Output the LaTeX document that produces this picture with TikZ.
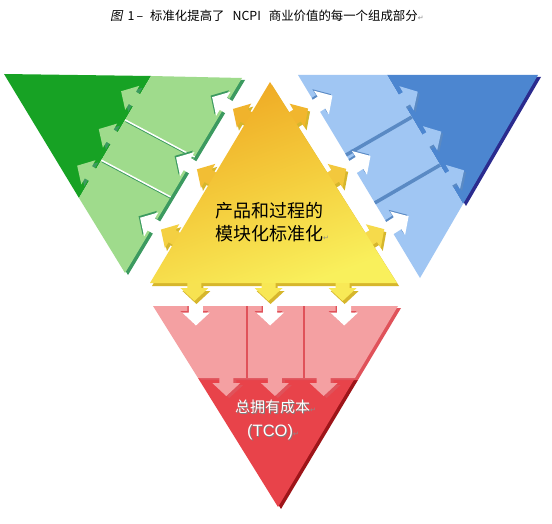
\documentclass[tikz,border=0pt]{standalone}
\usepackage{fontspec}
\usetikzlibrary{calc}
\newfontfamily\cjk{Noto Sans CJK SC}
\newfontfamily\cjkslant[FakeSlant=0.2]{Noto Sans CJK SC}
\newfontfamily\symb{DejaVu Sans}
\newfontfamily\latn{Liberation Sans}

\definecolor{greendark}{HTML}{17A224}
\definecolor{greenlight}{HTML}{9FDB8C}
\definecolor{greenedge}{HTML}{3C9A60}
\definecolor{bluedark}{HTML}{4C86D0}
\definecolor{bluelight}{HTML}{A0C6F3}
\definecolor{blueedge}{HTML}{5A8AC4}
\definecolor{bluenavy}{HTML}{2B2B8E}
\definecolor{reddark}{HTML}{E8434A}
\definecolor{redlight}{HTML}{F4A0A2}
\definecolor{rededge}{HTML}{E0525A}
\definecolor{redshade}{HTML}{9E1519}
\definecolor{yellowtop}{HTML}{EFA823}
\definecolor{yellowmid}{HTML}{F4CC3C}
\definecolor{yellowbot}{HTML}{F9F05C}
\definecolor{yellowedge}{HTML}{D6B62C}
\definecolor{markgray}{HTML}{8C8C8C}

\newcommand{\parmark}{{\symb\fontsize{7}{7}\selectfont\color{markgray}↵}}

\begin{document}
\begin{tikzpicture}[x=1pt, y=1pt,
    every node/.style={inner sep=0pt},
    blockarrow/.pic={\path[pic actions] (0,-7) -- (12,-7) -- (12,-14) -- (25,0) -- (12,14) -- (12,7) -- (0,7) -- cycle;}]
  \fill[white] (0,0) rectangle (552,-524);
  \useasboundingbox (0,0) rectangle (552,-524);

  \node[anchor=west, font={\cjk\fontsize{12.4}{14}\selectfont}] (title) at (110,-16)
    {{\cjkslant 图}\hspace{5pt}1\,–\hspace{7pt}标准化提高了\hspace{8pt}NCPI\hspace{8pt}商业价值的每一个组成部分\parmark};

  % corners
  \coordinate (A) at (4,-74);
  \coordinate (B) at (242,-78);
  \coordinate (C) at (125,-273);
  \coordinate (D) at (151,-76);
  \coordinate (E) at (79,-198);
  \coordinate (F) at (298,-75);
  \coordinate (G) at (538,-75);
  \coordinate (H) at (420,-278);
  \coordinate (I) at (387,-75);
  \coordinate (J) at (463,-204);
  \coordinate (S) at (153,-306);
  \coordinate (T) at (398,-306);
  \coordinate (U) at (278,-507);
  \coordinate (K) at (198,-378);
  \coordinate (L) at (355,-378);
  \coordinate (P) at (270,-82);
  \coordinate (Q) at (150,-283);
  \coordinate (R) at (397,-283);

  % green
  \fill[greendark] (A) -- (D) -- (E) -- cycle;
  \begin{scope}[transform canvas={shift={(3,-2)}}]
    \fill[greenedge] (D) -- (B) -- (C) -- (E) -- cycle;
    \foreach \t in {0.2,0.51,0.81}
      \pic[fill=greenedge, rotate=149.5] at ($(D)!\t!(E)+(149.5:-7)$) {blockarrow};
  \end{scope}
  \fill[greenlight] (D) -- (B) -- (C) -- (E) -- cycle;
  \foreach \t in {0.2,0.51,0.81}
    \pic[fill=greenlight, rotate=149.5] at ($(D)!\t!(E)+(149.5:-7)$) {blockarrow};
  \draw[greenedge, line width=1.2pt] ($(D)!0.36!(E)+(0.5,-1.5)$) -- ($(B)!0.405!(C)+(0.5,-1.5)$);
  \draw[white, line width=1.5pt] ($(D)!0.36!(E)$) -- ($(B)!0.405!(C)$);
  \draw[greenedge, line width=1.2pt] ($(D)!0.69!(E)+(0.5,-1.5)$) -- ($(B)!0.61!(C)+(0.5,-1.5)$);
  \draw[white, line width=1.5pt] ($(D)!0.69!(E)$) -- ($(B)!0.61!(C)$);
  \begin{scope}
    \clip (D) -- (B) -- (C) -- (E) -- cycle;
    \foreach \t in {0.18,0.48,0.78}
      \pic[fill=greenedge, rotate=149.2] at ($(P)!\t!(Q)+(149.2:19)$) {blockarrow};
  \end{scope}
  \foreach \t in {0.18,0.48,0.78}
    \pic[fill=white, rotate=149.2] at ($(P)!\t!(Q)+(149.2:19)+(1.5,-1.5)$) {blockarrow};

  % blue
  \begin{scope}[transform canvas={shift={(3,-2)}}]
    \fill[bluenavy] (I) -- (G) -- (J) -- cycle;
  \end{scope}
  \fill[bluedark] (I) -- (G) -- (J) -- cycle;
  \begin{scope}[transform canvas={shift={(2,-2)}}]
    \foreach \t in {0.2,0.51,0.81}
      \pic[fill=blueedge, rotate=30.5] at ($(I)!\t!(J)+(30.5:-7)$) {blockarrow};
  \end{scope}
  \fill[bluelight] (F) -- (I) -- (J) -- (H) -- cycle;
  \foreach \t in {0.2,0.51,0.81}
    \pic[fill=bluelight, rotate=30.5] at ($(I)!\t!(J)+(30.5:-7)$) {blockarrow};
  \draw[blueedge, line width=3.5pt] ($(I)!0.326!(J)$) -- ($(F)!0.394!(H)$);
  \draw[blueedge, line width=3.5pt] ($(I)!0.698!(J)$) -- ($(F)!0.63!(H)$);
  \begin{scope}
    \clip (F) -- (I) -- (J) -- (H) -- cycle;
    \foreach \t in {0.18,0.48,0.78}
      \pic[fill=blueedge, rotate=32.3] at ($(P)!\t!(R)+(32.3:20)$) {blockarrow};
  \end{scope}
  \foreach \t in {0.18,0.48,0.78}
    \pic[fill=white, rotate=32.3] at ($(P)!\t!(R)+(32.3:20)+(1.5,-1.5)$) {blockarrow};

  % red
  \begin{scope}[transform canvas={shift={(3,-2)}}]
    \fill[redshade] (K) -- (L) -- (U) -- cycle;
  \end{scope}
  \fill[reddark] (K) -- (L) -- (U) -- cycle;
  \begin{scope}[transform canvas={shift={(3,-2)}}]
    \fill[rededge] (S) -- (T) -- (L) -- (K) -- cycle;
    \foreach \t in {0.18,0.49,0.8}
      \pic[fill=rededge, rotate=-90] at ($(K)!\t!(L)+(0,7)$) {blockarrow};
  \end{scope}
  \fill[redlight] (S) -- (T) -- (L) -- (K) -- cycle;
  \foreach \t in {0.18,0.49,0.8}
    \pic[fill=redlight, rotate=-90] at ($(K)!\t!(L)+(0,7)$) {blockarrow};
  \draw[rededge, line width=1.6pt] (247,-306) -- (247,-378);
  \draw[rededge, line width=1.6pt] (304,-306) -- (304,-378);
  \begin{scope}
    \clip (S) -- (T) -- (L) -- (K) -- cycle;
    \foreach \t in {0.18,0.48,0.78}
      \pic[fill=rededge, rotate=-90] at ($(Q)!\t!(R)+(0,-16)$) {blockarrow};
  \end{scope}
  \foreach \t in {0.18,0.48,0.78}
    \pic[fill=white, rotate=-90] at ($(Q)!\t!(R)+(0,-16)+(1.5,-1.5)$) {blockarrow};

  % yellow
  \begin{scope}[transform canvas={shift={(2,-3)}}]
    \fill[yellowedge] (P) -- (Q) -- (R) -- cycle;
    \foreach \t in {0.18,0.48,0.78} {
      \pic[fill=yellowedge, rotate=149.2] at ($(P)!\t!(Q)+(149.2:-7)$) {blockarrow};
      \pic[fill=yellowedge, rotate=32.3] at ($(P)!\t!(R)+(32.3:-7)$) {blockarrow};
      \pic[fill=yellowedge, rotate=-90] at ($(Q)!\t!(R)+(0,7)$) {blockarrow};
    }
  \end{scope}
  \foreach \t/\m in {0.18/85, 0.48/70, 0.78/45}
    \pic[fill=yellowtop!\m!yellowbot, rotate=149.2] at ($(P)!\t!(Q)+(149.2:-7)$) {blockarrow};
  \foreach \t/\m in {0.18/80, 0.48/55, 0.78/30}
    \pic[fill=yellowtop!\m!yellowbot, rotate=32.3] at ($(P)!\t!(R)+(32.3:-7)$) {blockarrow};
  \foreach \t/\m in {0.18/20, 0.48/12, 0.78/10}
    \pic[fill=yellowtop!\m!yellowbot, rotate=-90] at ($(Q)!\t!(R)+(0,7)$) {blockarrow};
  \shade[top color=yellowtop, bottom color=yellowbot, middle color=yellowmid, shading angle=20] (P) -- (Q) -- (R) -- cycle;

  % texts
  \node[align=left, font={\cjk\fontsize{18}{23}\selectfont}] (core) at (272,-222)
    {产品和过程的\\模块化标准化\parmark};
  \node[anchor=west, text=gray, font={\cjk\fontsize{15}{15}\selectfont}] (tcoshadow) at (235.8,-407.8) {总拥有成本};
  \node[anchor=west, text=white, font={\cjk\fontsize{15}{15}\selectfont}] (tconame) at (235,-407) {总拥有成本\parmark};
  \node[anchor=west, text=gray, font={\latn\fontsize{16.5}{16.5}\selectfont}] (tcoabbrshadow) at (247.8,-432.8) {(TCO)};
  \node[anchor=west, text=white, font={\latn\fontsize{16.5}{16.5}\selectfont}] (tcoabbr) at (247,-432) {(TCO)\parmark};
\end{tikzpicture}
\end{document}
